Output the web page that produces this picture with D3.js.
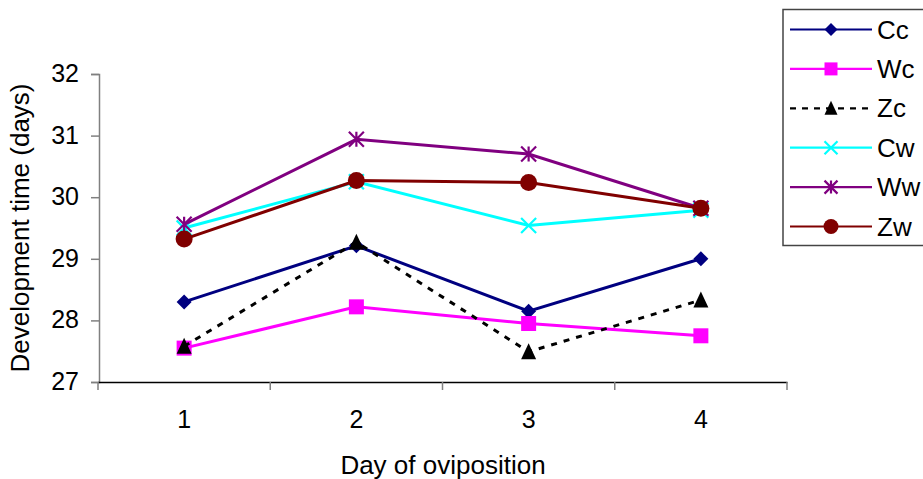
<!DOCTYPE html>
<html>
<head>
<meta charset="utf-8">
<script src="https://cdn.jsdelivr.net/npm/d3@7"></script>
<style>
  body { margin: 0; background: #fff; }
  text { font-family: "Liberation Sans", Arial, sans-serif; fill: #000; }
</style>
</head>
<body>
<svg id="chart" width="923" height="479"></svg>
<script>
// chart data
const days = ["1", "2", "3", "4"];
const yTicks = [27, 28, 29, 30, 31, 32];
const seriesNames = ["Cc", "Wc", "Zc", "Cw", "Ww", "Zw"];
const Cc = [28.30, 29.21, 28.15, 29.00];
const Wc = [27.55, 28.22, 27.95, 27.75];
const Zc = [27.58, 29.27, 27.49, 28.33];
const Cw = [29.50, 30.25, 29.54, 29.79];
const Ww = [29.56, 30.94, 30.70, 29.82];
const Zw = [29.32, 30.27, 30.24, 29.82];
const seriesValues = [Cc, Wc, Zc, Cw, Ww, Zw];

const colors = ["#000080", "#ff00ff", "#000000", "#00ffff", "#800080", "#800000"];
const markerTypes = ["diamond", "square", "triangle", "x", "star", "circle"];

const svg = d3.select("#chart");

const x = d3.scaleBand().domain(days).range([98, 787]).padding(0);
const y = d3.scaleLinear().domain([27, 32]).range([382, 74]);
const cx = d => x(d) + x.bandwidth() / 2;

// custom marker shapes, drawn at origin
function markerPath(type, s) {
  const r = s / 2;
  if (type === "diamond") return `M0,${-r}L${r},0L0,${r}L${-r},0Z`;
  if (type === "square") return `M${-r},${-r}H${r}V${r}H${-r}Z`;
  if (type === "triangle") return `M0,${-r - 1}L${r},${r}L${-r},${r}Z`;
  if (type === "x") return `M${-r},${-r}L${r},${r}M${-r},${r}L${r},${-r}`;
  if (type === "star") return `M${-r},${-r}L${r},${r}M${-r},${r}L${r},${-r}M0,${-r}V${r}`;
  return null;
}

function drawMarker(g, type, color, px, py, s) {
  if (type === "circle") {
    g.append("circle").attr("cx", px).attr("cy", py).attr("r", s / 2 + 1).attr("fill", color);
    return;
  }
  const stroked = type === "x" || type === "star";
  g.append("path")
    .attr("d", markerPath(type, s))
    .attr("transform", `translate(${px},${py})`)
    .attr("fill", stroked ? "none" : color)
    .attr("stroke", stroked ? color : "none")
    .attr("stroke-width", 2.2);
}

// Y axis
const yAxis = svg.append("g").attr("transform", "translate(99,0)")
  .call(d3.axisLeft(y).tickValues(yTicks).tickSize(8).tickPadding(12).tickFormat(d3.format("d")));
yAxis.select(".domain").attr("stroke", "#808080").attr("stroke-width", 1.5);
yAxis.selectAll(".tick line").attr("stroke", "#808080").attr("stroke-width", 1.5);
yAxis.selectAll(".tick text").attr("font-size", 25).attr("font-family", "Liberation Sans, Arial, sans-serif").attr("dy", "0.3em");

// X axis
const xAxis = svg.append("g").attr("transform", "translate(0,382)")
  .call(d3.axisBottom(x).tickSize(0).tickPadding(28));
xAxis.select(".domain").attr("stroke", "#000").attr("stroke-width", 1.5);
xAxis.selectAll(".tick text").attr("font-size", 25).attr("font-family", "Liberation Sans, Arial, sans-serif");
// band boundary ticks
const bounds = days.map(d => x(d)).concat([x.range()[1]]);
xAxis.selectAll(".bound").data(bounds).enter().append("line")
  .attr("x1", d => d).attr("x2", d => d).attr("y1", 0).attr("y2", 8)
  .attr("stroke", "#808080").attr("stroke-width", 1.5);

// axis titles
svg.append("text").attr("x", 443).attr("y", 474).attr("text-anchor", "middle")
  .attr("font-size", 26).text("Day of oviposition");
svg.append("text").attr("transform", "translate(29,228) rotate(-90)").attr("text-anchor", "middle")
  .attr("font-size", 26).text("Development time (days)");

// series
const line = d3.line().x((v, i) => cx(days[i])).y(v => y(v));
seriesNames.forEach((name, k) => {
  const g = svg.append("g");
  g.append("path").datum(seriesValues[k])
    .attr("d", line)
    .attr("fill", "none")
    .attr("stroke", colors[k])
    .attr("stroke-width", 3)
    .attr("stroke-dasharray", name === "Zc" ? "6,7" : null);
  seriesValues[k].forEach((v, i) => drawMarker(g, markerTypes[k], colors[k], cx(days[i]), y(v), 15));
});

// legend
const legend = svg.append("g");
legend.append("rect").attr("x", 783).attr("y", 9.5).attr("width", 160).attr("height", 236)
  .attr("fill", "#fff").attr("stroke", "#444").attr("stroke-width", 1.5);
seriesNames.forEach((name, k) => {
  const ly = 29.5 + k * 39.4;
  legend.append("line").attr("x1", 790).attr("x2", 872).attr("y1", ly).attr("y2", ly)
    .attr("stroke", colors[k]).attr("stroke-width", 2.2)
    .attr("stroke-dasharray", name === "Zc" ? "6,6" : null);
  drawMarker(legend, markerTypes[k], colors[k], 831, ly, 13);
  legend.append("text").attr("x", 877).attr("y", ly).attr("dy", "0.35em")
    .attr("font-size", 26).text(name);
});
</script>
</body>
</html>
